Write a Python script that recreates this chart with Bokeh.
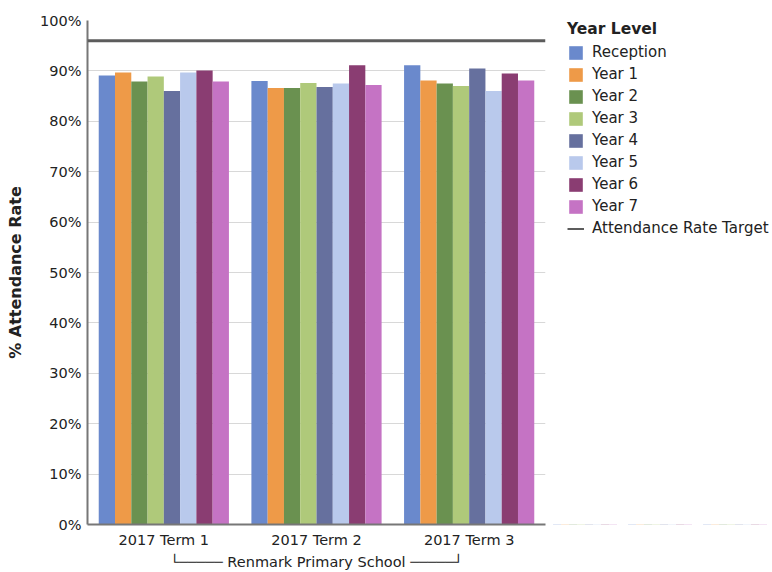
from bokeh.plotting import figure
from bokeh.layouts import row
from bokeh.models import (ColumnDataSource, FactorRange, Legend, LegendItem, Span,
                          PrintfTickFormatter, FixedTicker, Range1d, BoxAnnotation)
from bokeh.transform import dodge
from bokeh.embed import file_html
from bokeh.resources import INLINE

# ---- data ----
terms = ["2017 Term 1", "2017 Term 2", "2017 Term 3"]
year_levels = ["Reception", "Year 1", "Year 2", "Year 3", "Year 4", "Year 5", "Year 6", "Year 7"]
reception = [89.1, 88.0, 91.1]
year_1 = [89.7, 86.6, 88.1]
year_2 = [87.9, 86.6, 87.5]
year_3 = [88.9, 87.6, 87.0]
year_4 = [86.0, 86.8, 90.5]
year_5 = [89.7, 87.5, 86.0]
year_6 = [90.1, 91.1, 89.5]
year_7 = [87.9, 87.2, 88.1]
attendance_target = 96
school = "Renmark Primary School"
y_ticks = [0, 10, 20, 30, 40, 50, 60, 70, 80, 90, 100]

colors = ["#6a89cc", "#ee9a48", "#6a9150", "#afc97a", "#66709e", "#b9c9ec", "#8a3d72", "#c573c4"]
series = [reception, year_1, year_2, year_3, year_4, year_5, year_6, year_7]

FONT = "DejaVu Sans"
TXT = "#222222"
TARGET_COLOR = "#5c5c5c"

src = ColumnDataSource(dict(term=terms, **{lvl: vals for lvl, vals in zip(year_levels, series)}))

# ---- main chart ----
p = figure(x_range=FactorRange(*terms), y_range=(0, 100),
           width=547, height=572, output_backend="svg", toolbar_location=None,
           min_border_left=87, min_border_right=2, min_border_top=20, min_border_bottom=46)
p.outline_line_color = None
p.background_fill_color = "white"

bar_w = 0.1066
for i, (lvl, col) in enumerate(zip(year_levels, colors)):
    p.vbar(x=dodge("term", (i - 3.5) * bar_w, range=p.x_range), top=lvl, width=bar_w,
           source=src, fill_color=col, line_color=None)

p.add_layout(Span(location=attendance_target, dimension="width",
                  line_color=TARGET_COLOR, line_width=3))

p.yaxis.ticker = FixedTicker(ticks=y_ticks)
p.yaxis.formatter = PrintfTickFormatter(format="%d%%")
p.yaxis.axis_label = "% Attendance Rate"
p.yaxis.axis_label_text_font = FONT
p.yaxis.axis_label_text_font_style = "bold"
p.yaxis.axis_label_text_font_size = "16px"
p.yaxis.axis_label_text_color = TXT
p.yaxis.axis_label_standoff = 12
p.yaxis.major_label_standoff = 6
for ax in (p.xaxis[0], p.yaxis[0]):
    ax.major_label_text_font = FONT
    ax.major_label_text_font_size = "14.5px"
    ax.major_label_text_color = TXT
    ax.major_tick_out = 0
    ax.major_tick_in = 0
    ax.minor_tick_out = 0
    ax.minor_tick_in = 0
    ax.axis_line_color = "#777777"
    ax.axis_line_width = 2

p.xaxis.major_label_standoff = 7
p.xaxis.axis_label = "\u2514\u2500\u2500\u2500\u2500\u2500 " + school + " \u2500\u2500\u2500\u2500\u2500\u2518"
p.xaxis.axis_label_text_font = FONT
p.xaxis.axis_label_text_font_style = "normal"
p.xaxis.axis_label_text_font_size = "14.5px"
p.xaxis.axis_label_text_color = TXT
p.xaxis.axis_label_standoff = 3

p.xgrid.grid_line_color = None
p.ygrid.grid_line_color = "#d8d8d8"
p.ygrid.grid_line_width = 1

# ---- legend panel (separate figure, glyphs kept outside its visible range) ----
lg = figure(x_range=FactorRange(*terms), y_range=Range1d(1000, 1001),
            width=225, height=572, output_backend="svg", toolbar_location=None,
            x_axis_location=None, y_axis_location=None,
            min_border_left=0, min_border_right=0, min_border_top=0, min_border_bottom=0)
lg.outline_line_color = None
lg.grid.grid_line_color = None
items = []
for i, (lvl, col) in enumerate(zip(year_levels, colors)):
    r = lg.vbar(x=dodge("term", (i - 3.5) * bar_w, range=lg.x_range), top=lvl, width=bar_w,
                source=src, fill_color=col, line_color=None)
    items.append(LegendItem(label=lvl, renderers=[r]))
tr = lg.line(x=[terms[0], terms[-1]], y=[attendance_target, attendance_target],
             line_color=TARGET_COLOR, line_width=2)
items.append(LegendItem(label="Attendance Rate Target", renderers=[tr]))

# white cover so no sliver of the hidden glyphs shows at the frame edge
lg.add_layout(BoxAnnotation(fill_color="white", fill_alpha=1, line_color=None))

legend = Legend(items=items, location=(20, 287), title="Year Level",
                title_text_font=FONT, title_text_font_style="bold", title_text_font_size="15.5px",
                title_text_color=TXT, title_standoff=5,
                label_text_font=FONT, label_text_font_size="15px", label_text_color=TXT,
                glyph_width=17, glyph_height=17, label_height=17, spacing=4, label_standoff=8,
                padding=0, margin=0, border_line_color=None, background_fill_alpha=0)
lg.add_layout(legend)

open("out.html", "w").write(file_html(row(p, lg), INLINE))
